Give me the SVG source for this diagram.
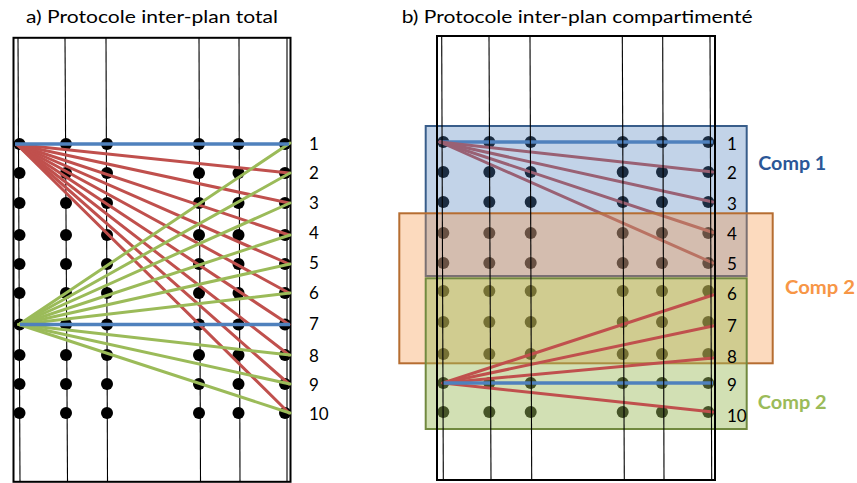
<svg xmlns="http://www.w3.org/2000/svg" width="857" height="483" viewBox="0 0 857 483">
<style>
.frame{fill:none;stroke:#000;stroke-width:2}
.vl{stroke:#000;stroke-width:1.1;fill:none}
.dot{fill:#000}
.red{stroke:#C0504D;stroke-width:3;fill:none;stroke-linecap:round}
.grn{stroke:#9BBB59;stroke-width:3;fill:none;stroke-linecap:round}
.blu{stroke:#4F81BD;stroke-width:3.5;fill:none}
.title{font-family:Lato,"Open Sans","Liberation Sans",sans-serif;font-size:18px;fill:#000}
.num{font-family:Lato,"Open Sans","Liberation Sans",sans-serif;font-size:17px;fill:#000}
.comp{font-family:Lato,"Open Sans","Liberation Sans",sans-serif;font-size:19px;font-weight:bold}
</style>
<rect width="857" height="483" fill="#fff"/>

<!-- Panel a -->
<g id="panel-a">
<text class="title" x="26" y="22.7" textLength="252" lengthAdjust="spacingAndGlyphs">a) Protocole inter-plan total</text>
<g id="a-verticals">
<line class="vl" x1="18" y1="38" x2="20" y2="481"/>
<line class="vl" x1="65" y1="38" x2="67.5" y2="481"/>
<line class="vl" x1="106" y1="38" x2="107.5" y2="481"/>
<line class="vl" x1="199" y1="38" x2="200.5" y2="481"/>
<line class="vl" x1="239" y1="38" x2="240" y2="481"/>
<line class="vl" x1="287" y1="38" x2="287" y2="481"/>
</g>
<rect class="frame" x="13.5" y="37.8" width="277" height="444"/>
<g id="a-dots">
<g id="a-r1"><circle class="dot" cx="19.5" cy="144" r="6"/><circle class="dot" cx="66" cy="144" r="6"/><circle class="dot" cx="107" cy="144" r="6"/><circle class="dot" cx="199" cy="144" r="6"/><circle class="dot" cx="238.5" cy="144" r="6"/><circle class="dot" cx="285" cy="144" r="6"/></g>
<g id="a-r2"><circle class="dot" cx="19.5" cy="173" r="6"/><circle class="dot" cx="66" cy="173" r="6"/><circle class="dot" cx="107" cy="173" r="6"/><circle class="dot" cx="199" cy="173" r="6"/><circle class="dot" cx="238.5" cy="173" r="6"/><circle class="dot" cx="285" cy="173" r="6"/></g>
<g id="a-r3"><circle class="dot" cx="19.5" cy="203" r="6"/><circle class="dot" cx="66" cy="203" r="6"/><circle class="dot" cx="107" cy="203" r="6"/><circle class="dot" cx="199" cy="203" r="6"/><circle class="dot" cx="238.5" cy="203" r="6"/><circle class="dot" cx="285" cy="203" r="6"/></g>
<g id="a-r4"><circle class="dot" cx="19.5" cy="235" r="6"/><circle class="dot" cx="66" cy="235" r="6"/><circle class="dot" cx="107" cy="235" r="6"/><circle class="dot" cx="199" cy="235" r="6"/><circle class="dot" cx="238.5" cy="235" r="6"/><circle class="dot" cx="285" cy="235" r="6"/></g>
<g id="a-r5"><circle class="dot" cx="19.5" cy="264" r="6"/><circle class="dot" cx="66" cy="264" r="6"/><circle class="dot" cx="107" cy="264" r="6"/><circle class="dot" cx="199" cy="264" r="6"/><circle class="dot" cx="238.5" cy="264" r="6"/><circle class="dot" cx="285" cy="264" r="6"/></g>
<g id="a-r6"><circle class="dot" cx="19.5" cy="293" r="6"/><circle class="dot" cx="66" cy="293" r="6"/><circle class="dot" cx="107" cy="293" r="6"/><circle class="dot" cx="199" cy="293" r="6"/><circle class="dot" cx="238.5" cy="293" r="6"/><circle class="dot" cx="285" cy="293" r="6"/></g>
<g id="a-r7"><circle class="dot" cx="19.5" cy="324.5" r="6"/><circle class="dot" cx="66" cy="324.5" r="6"/><circle class="dot" cx="107" cy="324.5" r="6"/><circle class="dot" cx="199" cy="324.5" r="6"/><circle class="dot" cx="238.5" cy="324.5" r="6"/><circle class="dot" cx="285" cy="324.5" r="6"/></g>
<g id="a-r8"><circle class="dot" cx="19.5" cy="355" r="6"/><circle class="dot" cx="66" cy="355" r="6"/><circle class="dot" cx="107" cy="355" r="6"/><circle class="dot" cx="199" cy="355" r="6"/><circle class="dot" cx="238.5" cy="355" r="6"/><circle class="dot" cx="285" cy="355" r="6"/></g>
<g id="a-r9"><circle class="dot" cx="19.5" cy="384" r="6"/><circle class="dot" cx="66" cy="384" r="6"/><circle class="dot" cx="107" cy="384" r="6"/><circle class="dot" cx="199" cy="384" r="6"/><circle class="dot" cx="238.5" cy="384" r="6"/><circle class="dot" cx="285" cy="384" r="6"/></g>
<g id="a-r10"><circle class="dot" cx="19.5" cy="413" r="6"/><circle class="dot" cx="66" cy="413" r="6"/><circle class="dot" cx="107" cy="413" r="6"/><circle class="dot" cx="199" cy="413" r="6"/><circle class="dot" cx="238.5" cy="413" r="6"/><circle class="dot" cx="285" cy="413" r="6"/></g>
</g>
<g id="a-connectors">
<line class="red" x1="17" y1="144.5" x2="289" y2="173"/>
<line class="red" x1="17" y1="144.5" x2="289" y2="203"/>
<line class="red" x1="17" y1="144.5" x2="289" y2="235"/>
<line class="red" x1="17" y1="144.5" x2="289" y2="264"/>
<line class="red" x1="17" y1="144.5" x2="289" y2="293"/>
<line class="red" x1="17" y1="144.5" x2="289" y2="324.5"/>
<line class="red" x1="17" y1="144.5" x2="289" y2="355"/>
<line class="red" x1="17" y1="144.5" x2="289" y2="384"/>
<line class="red" x1="17" y1="144.5" x2="289" y2="413"/>
<line class="grn" x1="19" y1="324.5" x2="290" y2="143"/>
<line class="grn" x1="19" y1="324.5" x2="290" y2="173"/>
<line class="grn" x1="19" y1="324.5" x2="290" y2="203"/>
<line class="grn" x1="19" y1="324.5" x2="290" y2="235"/>
<line class="grn" x1="19" y1="324.5" x2="290" y2="264"/>
<line class="grn" x1="19" y1="324.5" x2="290" y2="293"/>
<line class="grn" x1="19" y1="324.5" x2="290" y2="355"/>
<line class="grn" x1="19" y1="324.5" x2="290" y2="384"/>
<line class="grn" x1="19" y1="324.5" x2="290" y2="413"/>
<line class="blu" x1="15" y1="144" x2="289" y2="144"/>
<line class="blu" x1="20" y1="324.5" x2="290" y2="324.5"/>
</g>
<g id="a-labels">
<text class="num" x="309" y="150">1</text>
<text class="num" x="309" y="179.3">2</text>
<text class="num" x="309" y="209.3">3</text>
<text class="num" x="309" y="239.3">4</text>
<text class="num" x="309" y="269.3">5</text>
<text class="num" x="309" y="298.7">6</text>
<text class="num" x="309" y="330">7</text>
<text class="num" x="309" y="361.7">8</text>
<text class="num" x="309" y="390.7">9</text>
<text class="num" x="309" y="420">10</text>
</g>
</g>

<!-- Panel b -->
<g id="panel-b">
<text class="title" x="401.7" y="22.7" textLength="351" lengthAdjust="spacingAndGlyphs">b) Protocole inter-plan compartimenté</text>
<g id="b-dots">
<g id="b-r1"><circle class="dot" cx="443.3" cy="142" r="6"/><circle class="dot" cx="489.3" cy="142" r="6"/><circle class="dot" cx="530.7" cy="142" r="6"/><circle class="dot" cx="622.7" cy="142" r="6"/><circle class="dot" cx="662" cy="142" r="6"/><circle class="dot" cx="708.3" cy="142" r="6"/></g>
<g id="b-r2"><circle class="dot" cx="443.3" cy="172" r="6"/><circle class="dot" cx="489.3" cy="172" r="6"/><circle class="dot" cx="530.7" cy="172" r="6"/><circle class="dot" cx="622.7" cy="172" r="6"/><circle class="dot" cx="662" cy="172" r="6"/><circle class="dot" cx="708.3" cy="172" r="6"/></g>
<g id="b-r3"><circle class="dot" cx="443.3" cy="202" r="6"/><circle class="dot" cx="489.3" cy="202" r="6"/><circle class="dot" cx="530.7" cy="202" r="6"/><circle class="dot" cx="622.7" cy="202" r="6"/><circle class="dot" cx="662" cy="202" r="6"/><circle class="dot" cx="708.3" cy="202" r="6"/></g>
<g id="b-r4"><circle class="dot" cx="443.3" cy="233" r="6"/><circle class="dot" cx="489.3" cy="233" r="6"/><circle class="dot" cx="530.7" cy="233" r="6"/><circle class="dot" cx="622.7" cy="233" r="6"/><circle class="dot" cx="662" cy="233" r="6"/><circle class="dot" cx="708.3" cy="233" r="6"/></g>
<g id="b-r5"><circle class="dot" cx="443.3" cy="263" r="6"/><circle class="dot" cx="489.3" cy="263" r="6"/><circle class="dot" cx="530.7" cy="263" r="6"/><circle class="dot" cx="622.7" cy="263" r="6"/><circle class="dot" cx="662" cy="263" r="6"/><circle class="dot" cx="708.3" cy="263" r="6"/></g>
<g id="b-r6"><circle class="dot" cx="443.3" cy="291" r="6"/><circle class="dot" cx="489.3" cy="291" r="6"/><circle class="dot" cx="530.7" cy="291" r="6"/><circle class="dot" cx="622.7" cy="291" r="6"/><circle class="dot" cx="662" cy="291" r="6"/><circle class="dot" cx="708.3" cy="291" r="6"/></g>
<g id="b-r7"><circle class="dot" cx="443.3" cy="322" r="6"/><circle class="dot" cx="489.3" cy="322" r="6"/><circle class="dot" cx="530.7" cy="322" r="6"/><circle class="dot" cx="622.7" cy="322" r="6"/><circle class="dot" cx="662" cy="322" r="6"/><circle class="dot" cx="708.3" cy="322" r="6"/></g>
<g id="b-r8"><circle class="dot" cx="443.3" cy="354" r="6"/><circle class="dot" cx="489.3" cy="354" r="6"/><circle class="dot" cx="530.7" cy="354" r="6"/><circle class="dot" cx="622.7" cy="354" r="6"/><circle class="dot" cx="662" cy="354" r="6"/><circle class="dot" cx="708.3" cy="354" r="6"/></g>
<g id="b-r9"><circle class="dot" cx="443.3" cy="383" r="6"/><circle class="dot" cx="489.3" cy="383" r="6"/><circle class="dot" cx="530.7" cy="383" r="6"/><circle class="dot" cx="622.7" cy="383" r="6"/><circle class="dot" cx="662" cy="383" r="6"/><circle class="dot" cx="708.3" cy="383" r="6"/></g>
<g id="b-r10"><circle class="dot" cx="443.3" cy="412" r="6"/><circle class="dot" cx="489.3" cy="412" r="6"/><circle class="dot" cx="530.7" cy="412" r="6"/><circle class="dot" cx="622.7" cy="412" r="6"/><circle class="dot" cx="662" cy="412" r="6"/><circle class="dot" cx="708.3" cy="412" r="6"/></g>
</g>
<g id="b-connectors-upper">
<line class="blu" x1="439" y1="142" x2="713" y2="142"/>
<line class="red" x1="440" y1="142" x2="713" y2="172"/>
<line class="red" x1="440" y1="142" x2="713" y2="202"/>
<line class="red" x1="440" y1="142" x2="713" y2="232.5"/>
<line class="red" x1="440" y1="142" x2="713" y2="263"/>
</g>
<g id="comp1-box"><rect x="425.7" y="126" width="321" height="150" fill="#4F81BD" fill-opacity="0.35" stroke="#385D8A" stroke-width="2"/></g>
<g id="comp2-orange-box"><rect x="399.3" y="213.3" width="373.4" height="150" fill="#F79646" fill-opacity="0.35" stroke="#B66D31" stroke-width="2"/></g>
<g id="comp2-green-box"><rect x="425.7" y="278.3" width="321" height="150.7" fill="#9BBB59" fill-opacity="0.45" stroke="#71893F" stroke-width="2"/></g>
<g id="b-connectors-lower">
<line class="red" x1="443" y1="383" x2="713" y2="295"/>
<line class="red" x1="443" y1="383" x2="713" y2="326"/>
<line class="red" x1="443" y1="383" x2="713" y2="358"/>
<line class="red" x1="443" y1="383" x2="713" y2="412"/>
<line class="blu" x1="443" y1="383" x2="713" y2="383"/>
</g>
<g id="b-verticals">
<line class="vl" x1="441.7" y1="37" x2="443.3" y2="479"/>
<line class="vl" x1="489" y1="37" x2="491" y2="479"/>
<line class="vl" x1="530" y1="37" x2="531.7" y2="479"/>
<line class="vl" x1="622.3" y1="37" x2="624.3" y2="479"/>
<line class="vl" x1="662.7" y1="37" x2="664" y2="479"/>
<line class="vl" x1="710" y1="37" x2="711.7" y2="479"/>
</g>
<rect class="frame" x="437" y="36" width="278" height="444"/>
<g id="b-labels">
<text class="num" x="727" y="150">1</text>
<text class="num" x="727" y="179">2</text>
<text class="num" x="727" y="210">3</text>
<text class="num" x="727" y="240">4</text>
<text class="num" x="727" y="270">5</text>
<text class="num" x="727" y="300">6</text>
<text class="num" x="727" y="331.7">7</text>
<text class="num" x="727" y="363.3">8</text>
<text class="num" x="727" y="391">9</text>
<text class="num" x="727" y="421.7">10</text>
</g>
<g id="comp-labels">
<text class="comp" x="758.3" y="170" fill="#2B5797" textLength="68" lengthAdjust="spacingAndGlyphs">Comp 1</text>
<text class="comp" x="785" y="294" fill="#F79646" textLength="70" lengthAdjust="spacingAndGlyphs">Comp 2</text>
<text class="comp" x="757.7" y="409" fill="#9BBB59" textLength="69" lengthAdjust="spacingAndGlyphs">Comp 2</text>
</g>
</g>
</svg>
